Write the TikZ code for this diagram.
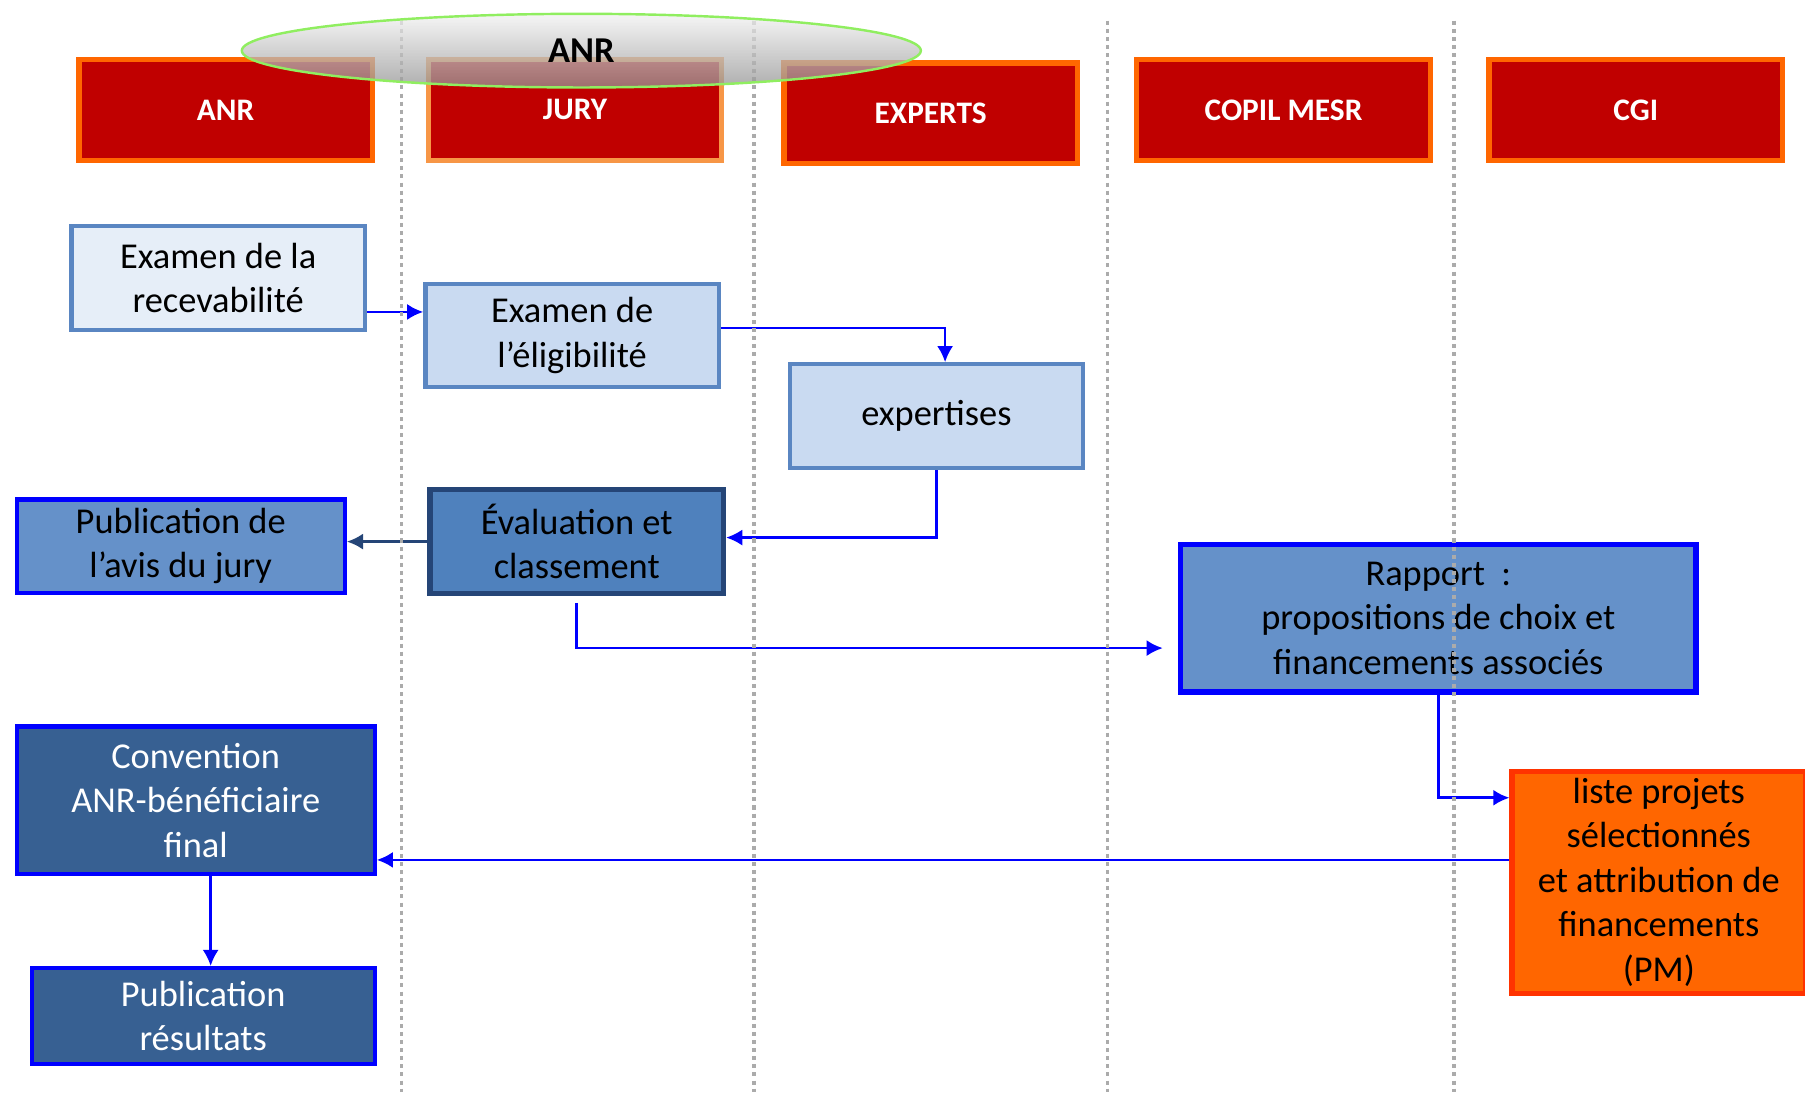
\documentclass[tikz,border=0pt]{standalone}
\usepackage{fontspec}
\setmainfont{Carlito}
\usetikzlibrary{arrows.meta,shapes.geometric}

\definecolor{laneRed}{HTML}{C00000}
\definecolor{laneOrange}{HTML}{FF6600}
\definecolor{laneLight}{HTML}{F79646}
\definecolor{paleFill}{HTML}{E6EEF8}
\definecolor{lightFill}{HTML}{C9DAF1}
\definecolor{frameBlue}{HTML}{5A86C2}
\definecolor{midFill}{HTML}{4F81BD}
\definecolor{navyFrame}{HTML}{254577}
\definecolor{skyFill}{HTML}{6591C9}
\definecolor{darkFill}{HTML}{376092}
\definecolor{pureBlue}{HTML}{0000FF}
\definecolor{listOrange}{HTML}{FF6600}
\definecolor{listFrame}{HTML}{FF3300}
\definecolor{laneGray}{HTML}{ABABAB}
\definecolor{ovalGreen}{HTML}{90EE60}

\tikzset{
  lane/.style={rectangle,fill=laneRed,draw=laneOrange,line width=2.6pt,
    minimum width=5.1cm,minimum height=1.75cm,text=white,
    font=\fontsize{15.5}{18}\selectfont\bfseries},
  stage/.style={rectangle,line width=2.1pt,minimum width=5.1cm,
    minimum height=1.8cm,align=center,inner sep=2pt,
    font=\fontsize{18}{22}\selectfont},
  flow/.style={draw=pureBlue,line width=1.3pt,-{Latex[length=8pt,width=8pt]}}
}

\begin{document}
\begin{tikzpicture}[x=0.02cm,y=-0.02cm]

  \useasboundingbox (0,0) rectangle (1568,949);

  \begin{scope}[every node/.style=lane]
    \node (hanr)    at (196,95.5)    {ANR};
    \node[draw=laneLight] (hjury) at (499.5,95.5) {JURY};
    \node (hexp)    at (808.5,98.5)  {EXPERTS};
    \node (hcopil)  at (1115,95.5)   {COPIL MESR};
    \node (hcgi)    at (1421,95.5)   {CGI};
  \end{scope}

  \begin{scope}[every node/.style=stage]
    \node[fill=paleFill,draw=frameBlue] (recev) at (189.5,241.5)
      {Examen de la\\recevabilité};
    \node[fill=lightFill,draw=frameBlue] (elig) at (497,291.5)
      {Examen de\\l’éligibilité};
    \node[fill=lightFill,draw=frameBlue] (expert) at (813.5,361.5)
      {expertises};
    \node[fill=midFill,draw=navyFrame,line width=2.6pt] (eval) at (501,470.5)
      {Évaluation et\\classement};
    \node[fill=skyFill,draw=pureBlue,minimum width=5.7cm,minimum height=1.62cm]
      (avis) at (157,474.5) {Publication de\\l’avis du jury};
    \node[fill=skyFill,draw=pureBlue,line width=2.8pt,minimum width=8.96cm,
      minimum height=2.56cm] (rapport) at (1249.5,537)
      {Rapport\ \ :\\propositions de choix et\\financements associés};
    \node[fill=darkFill,draw=pureBlue,text=white,minimum width=6.22cm,
      minimum height=2.56cm] (conv) at (170,695)
      {Convention\\ANR-bénéficiaire\\final};
    \node[fill=darkFill,draw=pureBlue,text=white,minimum width=5.96cm,
      minimum height=1.66cm] (result) at (176.5,882.5)
      {Publication\\résultats};
    \node[fill=listOrange,draw=listFrame,line width=2.6pt,minimum width=5.1cm,
      minimum height=3.86cm] (liste) at (1441,766.5)
      {liste projets\\sélectionnés\\et attribution de\\financements\\(PM)};
  \end{scope}

  \coordinate (a1) at ([yshift=-0.59cm]recev.east);
  \coordinate (b1) at ([yshift=0.13cm]elig.east);
  \coordinate (b2) at ([xshift=0.15cm]expert.north);
  \coordinate (g1) at ([yshift=0.39cm]liste.west);
  \coordinate (h1) at ([xshift=0.26cm]conv.south);

  \draw[flow] (a1) -- (a1 -| elig.west);
  \draw[flow] (b1) -| (b2);
  \draw[flow] (expert.south) |- ([yshift=0.07cm]eval.east);
  \draw[flow,draw=navyFrame] (eval.west) -- (eval.west -| avis.east);
  \draw[flow] ([yshift=-0.12cm]eval.south) |- ([xshift=-0.26cm,yshift=-0.52cm]rapport.west);
  \draw[flow] (rapport.south) |- ([yshift=1.47cm]liste.west);
  \draw[flow] (g1) -- (g1 -| conv.east);
  \draw[flow] (h1) -- (h1 |- result.north);

  \foreach \x in {349,655,962,1263}
    \draw[laneGray,line width=1.6pt,dash pattern=on 2pt off 2pt] (\x,18) -- (\x,949);

  \node[ellipse,draw=ovalGreen,line width=1.2pt,top color=gray!10,bottom color=gray!85,
    fill opacity=0.75,text opacity=1,minimum width=11.8cm,minimum height=1.28cm,
    font=\fontsize{18}{22}\selectfont\bfseries] (oval) at (505,44) {ANR};

\end{tikzpicture}
\end{document}
